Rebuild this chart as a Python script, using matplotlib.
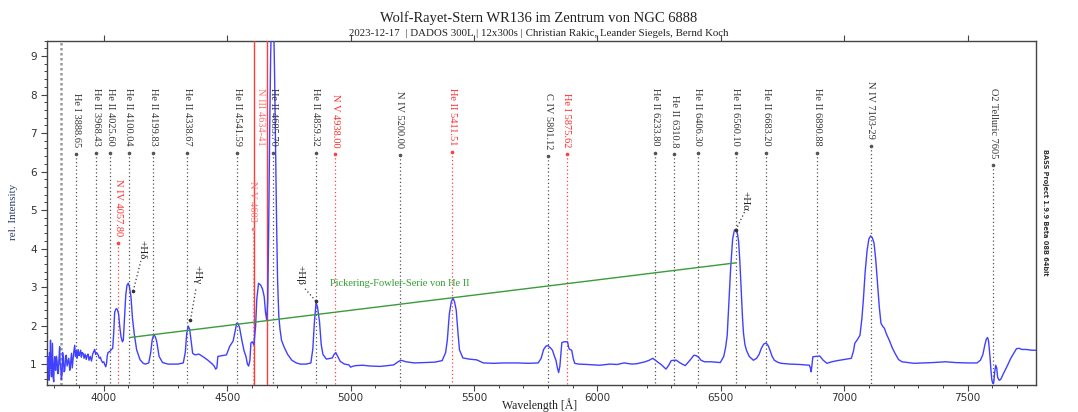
import matplotlib
matplotlib.use("Agg")
import matplotlib.pyplot as plt
from matplotlib.ticker import MultipleLocator

# ---------------- data ----------------
WAVE = [3772, 3774, 3776, 3778, 3780, 3782, 3784, 3786, 3788, 3790, 3792, 3794, 3797, 3799,
        3801, 3803, 3805, 3808, 3811, 3813, 3816, 3818, 3821, 3823, 3825, 3828, 3831, 3833,
        3836, 3839, 3842, 3845, 3848, 3851, 3855, 3858, 3862, 3865, 3869, 3872, 3875, 3878,
        3882, 3885, 3889, 3892, 3896, 3899, 3902, 3906, 3909, 3912, 3916, 3920, 3924, 3929,
        3932, 3936, 3940, 3945, 3950, 3955, 3960, 3963, 3967, 3971, 3977, 3982, 3986, 3990,
        3995, 4000, 4004, 4008, 4011, 4014, 4017, 4022, 4026, 4031, 4036, 4040, 4044, 4050,
        4055, 4060, 4065, 4070, 4075, 4079, 4084, 4089, 4094, 4099, 4104, 4110, 4116, 4123,
        4133, 4147, 4160, 4168, 4182, 4190, 4196, 4202, 4208, 4214, 4224, 4238, 4260, 4280,
        4300, 4322, 4330, 4336, 4342, 4348, 4354, 4360, 4370, 4385, 4400, 4420, 4440, 4448,
        4453, 4458, 4462, 4480, 4497, 4510, 4524, 4532, 4538, 4544, 4550, 4559, 4568, 4576,
        4582, 4587, 4592, 4596, 4602, 4608, 4615, 4620, 4627, 4636, 4643, 4650, 4655, 4660,
        4664, 4668, 4672, 4676, 4680, 4684, 4688, 4692, 4696, 4700, 4704, 4709, 4714, 4720,
        4730, 4745, 4762, 4780, 4797, 4820, 4839, 4847, 4853, 4860, 4866, 4874, 4881, 4888,
        4902, 4926, 4933, 4940, 4948, 4958, 4975, 4993, 5000, 5007, 5020, 5049, 5080, 5119,
        5150, 5175, 5190, 5203, 5215, 5224, 5259, 5300, 5340, 5371, 5385, 5392, 5400, 5408,
        5415, 5421, 5428, 5434, 5441, 5455, 5480, 5511, 5538, 5580, 5620, 5678, 5720, 5760,
        5772, 5782, 5792, 5800, 5810, 5818, 5826, 5832, 5838, 5843, 5848, 5852, 5856, 5866,
        5879, 5884, 5888, 5896, 5902, 5908, 5924, 5960, 6009, 6050, 6080, 6108, 6140, 6160,
        6193, 6210, 6224, 6235, 6243, 6260, 6278, 6290, 6299, 6310, 6320, 6335, 6356, 6375,
        6391, 6400, 6410, 6420, 6434, 6462, 6480, 6498, 6512, 6520, 6526, 6533, 6540, 6548,
        6555, 6561, 6567, 6572, 6577, 6582, 6588, 6592, 6598, 6604, 6615, 6632, 6645, 6655,
        6665, 6674, 6684, 6692, 6700, 6708, 6717, 6730, 6745, 6780, 6820, 6859, 6863, 6866,
        6869, 6873, 6885, 6901, 6915, 6930, 6950, 6972, 7000, 7029, 7038, 7043, 7055, 7064,
        7072, 7078, 7085, 7093, 7100, 7107, 7114, 7121, 7128, 7135, 7142, 7149, 7156, 7163,
        7170, 7177, 7184, 7195, 7206, 7220, 7234, 7260, 7283, 7320, 7360, 7411, 7450, 7500,
        7538, 7552, 7562, 7570, 7576, 7581, 7585, 7590, 7594, 7598, 7602, 7606, 7610, 7614,
        7618, 7622, 7628, 7634, 7645, 7659, 7675, 7687, 7698, 7709, 7720, 7737, 7760, 7776]
FLUX = [0.95, 1.19, 0.75, 0.58, 1.30, 0.90, 1.62, 0.80, 0.67, 1.10, 1.54, 0.70, 0.54, 1.00,
        1.19, 0.90, 0.84, 1.20, 1.06, 0.75, 0.76, 1.10, 1.45, 1.00, 0.97, 0.60, 0.76, 1.30,
        1.15, 0.80, 0.84, 1.20, 1.23, 0.95, 1.06, 1.15, 0.84, 1.00, 1.28, 0.90, 1.10, 1.30,
        1.49, 1.20, 1.35, 1.15, 1.38, 1.22, 1.26, 1.36, 1.18, 1.30, 1.28, 1.15, 1.26, 1.12,
        1.22, 1.26, 1.10, 1.20, 1.08, 1.26, 1.34, 1.38, 1.25, 1.30, 1.24, 1.15, 1.18, 1.10,
        1.04, 1.06, 0.98, 0.93, 1.02, 1.22, 1.30, 1.32, 1.34, 1.38, 1.41, 1.80, 2.35, 2.44,
        2.42, 2.30, 1.95, 1.70, 1.58, 1.62, 2.20, 2.80, 3.05, 3.10, 3.00, 2.75, 2.20, 1.80,
        1.37, 1.11, 1.02, 1.00, 1.03, 1.30, 1.63, 1.76, 1.72, 1.60, 1.20, 1.04, 1.00, 1.00,
        1.00, 1.03, 1.30, 1.80, 1.99, 1.90, 1.60, 1.28, 1.24, 1.26, 1.20, 1.11, 1.00, 0.94,
        0.87, 0.90, 1.20, 1.22, 1.24, 1.46, 1.60, 1.85, 2.06, 2.05, 1.95, 1.63, 1.35, 1.20,
        1.00, 0.95, 1.10, 1.55, 1.58, 1.50, 1.98, 2.70, 3.10, 3.05, 2.95, 2.75, 2.35, 2.15,
        2.60, 4.50, 7.00, 9.00, 10.2, 10.5, 10.0, 8.50, 6.50, 4.70, 3.20, 2.25, 1.90, 1.62,
        1.45, 1.25, 1.10, 1.03, 1.00, 1.00, 1.03, 1.40, 2.06, 2.60, 2.48, 2.10, 1.50, 1.25,
        1.13, 1.16, 1.25, 1.30, 1.20, 1.07, 1.00, 0.98, 0.92, 0.94, 0.96, 0.97, 0.95, 0.94,
        0.96, 0.98, 1.05, 1.10, 1.08, 1.06, 1.03, 1.04, 1.05, 1.09, 1.30, 1.63, 2.30, 2.62,
        2.71, 2.62, 2.40, 1.90, 1.37, 1.16, 1.13, 1.11, 1.03, 1.02, 1.03, 1.03, 1.02, 1.03,
        1.15, 1.38, 1.47, 1.48, 1.42, 1.36, 1.20, 1.10, 0.90, 0.78, 0.95, 1.25, 1.56, 1.58,
        1.58, 1.42, 1.38, 1.36, 1.15, 1.02, 1.00, 0.99, 0.97, 1.00, 0.99, 1.03, 1.00, 1.01,
        1.06, 1.10, 1.15, 1.10, 1.06, 0.98, 0.87, 0.98, 1.09, 1.10, 1.10, 1.03, 0.96, 1.10,
        1.23, 1.22, 1.18, 1.10, 1.06, 1.06, 1.05, 1.04, 1.20, 1.45, 1.75, 2.60, 3.50, 4.25,
        4.48, 4.50, 4.40, 4.20, 3.70, 3.00, 2.20, 1.80, 1.50, 1.36, 1.20, 1.10, 1.15, 1.25,
        1.42, 1.52, 1.55, 1.48, 1.35, 1.20, 1.10, 1.05, 1.02, 1.00, 0.99, 0.97, 0.90, 0.80,
        0.95, 1.19, 1.20, 1.21, 1.10, 1.02, 1.06, 1.09, 1.12, 1.15, 1.35, 1.54, 1.65, 1.75,
        2.20, 2.70, 3.40, 3.96, 4.25, 4.33, 4.28, 4.14, 3.70, 3.10, 2.50, 2.06, 1.98, 1.93,
        1.80, 1.70, 1.60, 1.42, 1.28, 1.12, 1.06, 1.04, 1.02, 1.03, 1.04, 1.06, 1.04, 1.03,
        1.03, 1.10, 1.25, 1.50, 1.65, 1.69, 1.60, 1.25, 0.90, 0.60, 0.50, 0.52, 0.80, 0.97,
        0.90, 0.65, 0.58, 0.60, 0.75, 0.93, 1.15, 1.28, 1.40, 1.41, 1.38, 1.38, 1.36, 1.36]

LINE_NAMES = ["He I 3888.65", "He II 3968.43", "He II 4025.60", "N IV 4057.80", "He II 4100.04",
              "He II 4199.83", "He II 4338.67", "He II 4541.59", "N V 4603", "N III 4634-41",
              "He II 4685.70", "He II 4859.32", "N V 4938.00", "N IV 5200.00", "He II 5411.51",
              "C IV 5801.12", "He I 5875.62", "He II 6233.80", "He II 6310.8", "He II 6406.30",
              "He II 6560.10", "He II 6683.20", "He II 6890.88", "N IV 7103-29", "O2 Telluric 7605"]
LINE_WAVES = [3888.65, 3968.43, 4025.60, 4057.80, 4100.04, 4199.83, 4338.67, 4541.59, 4603.0,
              4634.0, 4685.70, 4859.32, 4938.00, 5200.00, 5411.51, 5801.12, 5875.62, 6233.80,
              6310.8, 6406.30, 6560.10, 6683.20, 6890.88, 7108.0, 7605.0]
LINE_GROUP = ["std", "std", "std", "hi", "std", "std", "std", "std", "faint", "faint",
              "std", "std", "hi", "std", "hi", "std", "hi", "std", "std", "std",
              "std", "std", "std", "std", "std"]

MARKER_LINES = [4608.5, 4661.7]      # solid red markers
EXTRA_LINE = 3828.0                 # grey dotted marker at left

BALMER_NAMES = ["+Hδ", "+Hγ", "+Hβ", "+Hα"]
BALMER_PEAK_WAVE = [4119, 4351, 4859, 6561]
BALMER_PEAK_FLUX = [2.90, 2.14, 2.64, 4.48]

PICKERING_WAVE = [4105, 6561]
PICKERING_FLUX = [1.69, 3.63]
PICKERING_TEXT = "Pickering-Fowler-Serie von He II"

TITLE = "Wolf-Rayet-Stern WR136 im Zentrum von NGC 6888"
SUBTITLE = "2023-12-17  | DADOS 300L | 12x300s | Christian Rakic, Leander Siegels, Bernd Koch"
XLABEL = "Wavelength [Å]"
YLABEL = "rel. Intensity"
SOFTWARE = "BASS Project 1.9.9 Beta 08B 64bit"

# ---------------- styles ----------------
SERIF = ["Liberation Serif", "DejaVu Serif"]
GROUP_COLOR = {"std": "#333333", "hi": "#ff2a2a", "faint": "#ff7070"}
GROUP_LINE = {"std": "#555555", "hi": "#ff4040", "faint": "#ff7a7a"}
LABEL_TOP = {"N IV 4057.80": 5.80, "N V 4603": 5.75, "N IV 7103-29": 8.36,
             "N V 4938.00": 8.02, "He II 6310.8": 8.0, "He I 3888.65": 8.05,
             "C IV 5801.12": 8.05, "He I 5875.62": 8.05, "N IV 5200.00": 8.1}
DEFAULT_TOP = 8.17
NO_LEADER = {"N III 4634-41"}
BALMER_TEXT_POS = [(4153, 4.22), (4377, 3.58), (4795, 3.58), (6598, 5.5)]
BALMER_LEADER_END = [(4150, 3.68), (4374, 2.98), (4812, 2.98), (6596, 4.95)]

XMIN, XMAX = 3771, 7776
YMIN, YMAX = 0.47, 9.4

fig = plt.figure(figsize=(10.78, 4.12), dpi=100)
ax = fig.add_axes([47.3 / 1078, 1 - 384.5 / 412, (1035.7 - 47.3) / 1078, (384.5 - 40.7) / 412])
ax.set_xlim(XMIN, XMAX)
ax.set_ylim(YMIN, YMAX)

# spectrum
ax.plot(WAVE, FLUX, color="#4040ff", lw=1.0, zorder=5)

# grey dotted marker at left
ax.axvline(EXTRA_LINE, color="#9a9a9a", lw=1.8, ls=(0, (1, 1)), zorder=2)
# solid red markers
for w in MARKER_LINES:
    ax.axvline(w, color="#ff3b3b", lw=1.0, zorder=4)

# pickering line
ax.plot(PICKERING_WAVE, PICKERING_FLUX, color="#3c9a3c", lw=1.0, zorder=6)
ax.text(4915, 3.1, PICKERING_TEXT, color="#2f9e2f", fontsize=7.5, family=SERIF,
        ha="left", va="center", zorder=7)

# line labels
texts = []
for name, w, g in zip(LINE_NAMES, LINE_WAVES, LINE_GROUP):
    t = ax.text(w, LABEL_TOP.get(name, DEFAULT_TOP), name, rotation=270, ha="center", va="top",
                fontsize=7.5, family=SERIF, color=GROUP_COLOR[g], zorder=7)
    texts.append((t, name, w, g))

fig.canvas.draw()
renderer = fig.canvas.get_renderer()
inv = ax.transData.inverted()
for t, name, w, g in texts:
    if name in NO_LEADER:
        continue
    bb = t.get_window_extent(renderer)
    ydot = inv.transform((0, bb.y0 - 7))[1]
    ax.plot([w], [ydot], marker="o", ms=1.6, color=GROUP_LINE[g], zorder=6)
    ax.plot([w, w], [ydot, YMIN], color=GROUP_LINE[g], lw=0.9, ls=(0, (1, 2)), zorder=3)

# balmer annotations
for name, pw, pf, (tx, ty), (lx, ly) in zip(BALMER_NAMES, BALMER_PEAK_WAVE, BALMER_PEAK_FLUX,
                                           BALMER_TEXT_POS, BALMER_LEADER_END):
    ax.plot([pw, lx], [pf, ly], color="#333333", lw=0.9, ls=(0, (1, 2)), zorder=6)
    ax.plot([pw], [pf], marker="o", ms=1.6, color="#333333", zorder=6)
    ax.text(tx, ty, name, rotation=270, ha="center", va="top", fontsize=8,
            family=SERIF, color="#222222", zorder=7)

# axes styling
for s in ax.spines.values():
    s.set_color("#444444")
    s.set_linewidth(1.0)
ax.xaxis.set_major_locator(MultipleLocator(500))
ax.xaxis.set_minor_locator(MultipleLocator(100))
ax.yaxis.set_major_locator(MultipleLocator(1))
ax.yaxis.set_minor_locator(MultipleLocator(0.2))
ax.tick_params(axis="both", which="major", direction="out", length=4, width=0.8,
               color="#444444", labelsize=7.5, labelcolor="#333333")
ax.tick_params(axis="both", which="minor", direction="out", length=2.5, width=0.7, color="#444444")
ax.tick_params(axis="x", which="major", top=True, pad=2)
ax.tick_params(axis="x", which="minor", top=False)

fig.text(14 / 1078, 1 - 212 / 412, YLABEL, rotation=90, ha="center", va="center",
         fontsize=8, family=SERIF, color="#2b3a6b")
fig.text(540 / 1078, 1 - 405 / 412, XLABEL, ha="center", va="center", fontsize=8.5,
         family=SERIF, color="#222222")

fig.text(0.5, 1 - 18 / 412, TITLE, ha="center", va="center", fontsize=10.5,
         family=SERIF, color="#222222")
fig.text(0.5, 1 - 33 / 412, SUBTITLE, ha="center", va="center", fontsize=7.8,
         family=SERIF, color="#222222")
fig.text(1045 / 1078, 1 - 212 / 412, SOFTWARE, rotation=270, ha="center", va="center",
         fontsize=4.8, fontweight="bold", color="#333333")

fig.savefig("out.png", dpi=100)
